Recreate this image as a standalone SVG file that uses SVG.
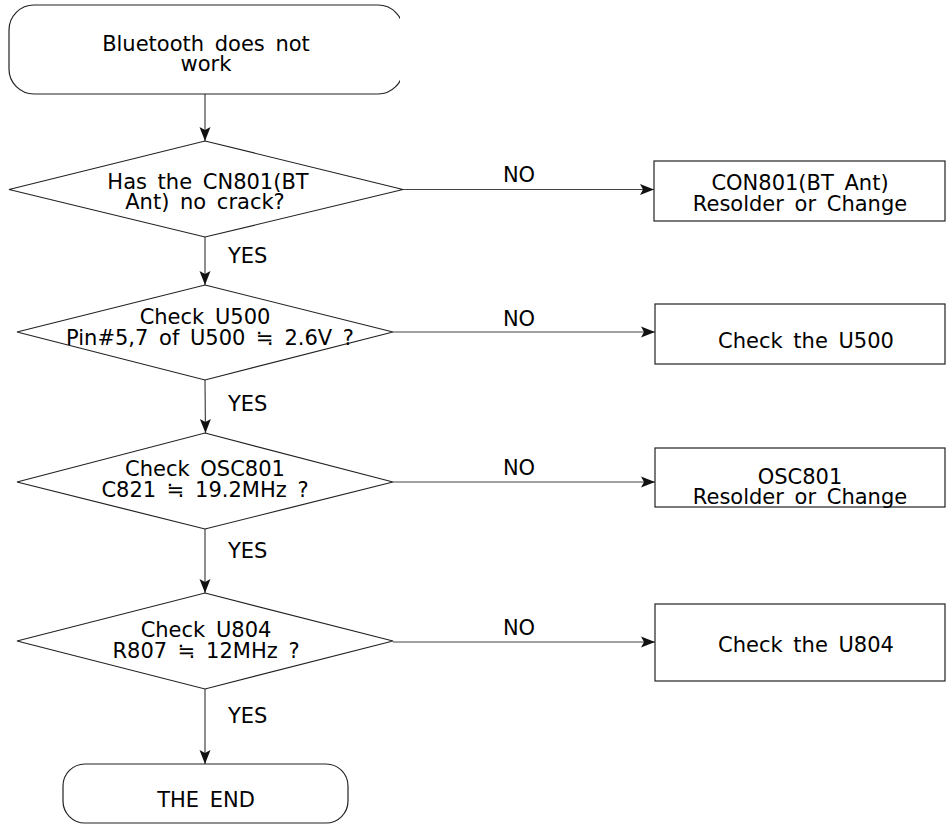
<svg xmlns="http://www.w3.org/2000/svg" width="946" height="825" viewBox="0 0 946 825">
<style>
.shape{fill:#fff;stroke:#222;stroke-width:1.2}
.conn{fill:none;stroke:#444;stroke-width:1.2}
text{font-family:"DejaVu Sans","Verdana","Liberation Sans",sans-serif;font-size:21px;fill:#000;word-spacing:4px}
.c{text-anchor:middle}
</style>
<defs>
<marker id="arr" viewBox="-15 -7 16 14" markerWidth="16" markerHeight="14" refX="0" refY="0" orient="auto" markerUnits="userSpaceOnUse">
<path d="M0,0 L-14,-5.5 L-11,0 L-14,5.5 Z" fill="#111"/>
</marker>
<clipPath id="clipStart"><rect x="0" y="0" width="400" height="100"/></clipPath>
</defs>
<rect width="946" height="825" fill="#fff"/>
<g id="connectors">
<line class="conn" x1="205" y1="94" x2="205" y2="141" marker-end="url(#arr)"/>
<line class="conn" x1="205" y1="237" x2="205" y2="285" marker-end="url(#arr)"/>
<line class="conn" x1="205" y1="380" x2="205.5" y2="433" marker-end="url(#arr)"/>
<line class="conn" x1="205" y1="529" x2="205" y2="593" marker-end="url(#arr)"/>
<line class="conn" x1="205" y1="689" x2="205" y2="764" marker-end="url(#arr)"/>
<line class="conn" x1="403" y1="189.5" x2="654" y2="189.5" marker-end="url(#arr)"/>
<line class="conn" x1="393" y1="332" x2="655" y2="332" marker-end="url(#arr)"/>
<line class="conn" x1="393" y1="482" x2="655" y2="482" marker-end="url(#arr)"/>
<line class="conn" x1="393" y1="642" x2="655" y2="642" marker-end="url(#arr)"/>
<text x="228" y="263">YES</text>
<text x="228" y="411">YES</text>
<text x="228" y="558">YES</text>
<text x="228" y="723">YES</text>
<text x="519" y="182" class="c">NO</text>
<text x="519" y="326" class="c">NO</text>
<text x="519" y="475" class="c">NO</text>
<text x="519" y="635" class="c">NO</text>
</g>
<g id="start">
<rect class="shape" x="9" y="5" width="394" height="89" rx="25" ry="25" clip-path="url(#clipStart)"/>
<text x="206" y="51" class="c">Bluetooth does not</text>
<text x="206" y="71" class="c">work</text>
</g>
<g id="d1">
<polygon class="shape" points="205,141 403,189.5 205,237 9,189.5"/>
<text x="208" y="189" class="c">Has the CN801(BT</text>
<text x="205" y="209" class="c">Ant) no crack?</text>
</g>
<g id="d2">
<polygon class="shape" points="205,285 393,332 205,380 17,332"/>
<text x="205" y="324" class="c">Check U500</text>
<text x="210" y="345" class="c">Pin#5,7 of U500 ≒ 2.6V ?</text>
</g>
<g id="d3">
<polygon class="shape" points="205,433 393,482 205,529 17,482"/>
<text x="205" y="476" class="c">Check OSC801</text>
<text x="205" y="497" class="c">C821 ≒ 19.2MHz ?</text>
</g>
<g id="d4">
<polygon class="shape" points="205,593 393,641 205,689 17,641"/>
<text x="206" y="637" class="c">Check U804</text>
<text x="206" y="658" class="c">R807 ≒ 12MHz ?</text>
</g>
<g id="b1">
<rect class="shape" x="654" y="161" width="291" height="60"/>
<text x="800" y="190" class="c">CON801(BT Ant)</text>
<text x="800" y="211" class="c">Resolder or Change</text>
</g>
<g id="b2">
<rect class="shape" x="655" y="304" width="290" height="60"/>
<text x="806" y="348" class="c">Check the U500</text>
</g>
<g id="b3">
<rect class="shape" x="655" y="448" width="290" height="59"/>
<text x="800" y="484" class="c">OSC801</text>
<text x="800" y="504" class="c">Resolder or Change</text>
</g>
<g id="b4">
<rect class="shape" x="655" y="604" width="290" height="77"/>
<text x="806" y="652" class="c">Check the U804</text>
</g>
<g id="end">
<rect class="shape" x="63" y="764" width="285" height="59" rx="22" ry="22"/>
<text x="206" y="807" class="c">THE END</text>
</g>
</svg>
